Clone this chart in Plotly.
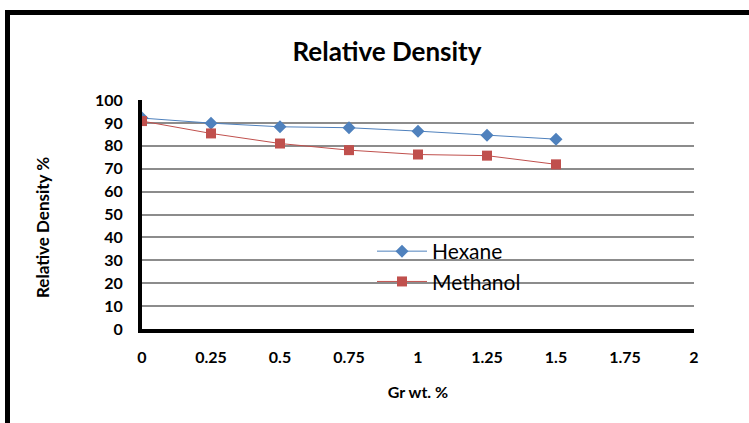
import plotly.graph_objects as go

gr_wt = [0, 0.25, 0.5, 0.75, 1, 1.25, 1.5]
hexane = [92.1, 89.9, 88.3, 87.9, 86.4, 84.6, 82.9]
methanol = [90.8, 85.4, 81.0, 78.1, 76.2, 75.7, 71.9]
x_ticks = [0, 0.25, 0.5, 0.75, 1, 1.25, 1.5, 1.75, 2]
x_tick_labels = ["0", "0.25", "0.5", "0.75", "1", "1.25", "1.5", "1.75", "2"]
y_ticks = list(range(0, 101, 10))

W, H = 749, 423
L, R, T, B = 142, 55, 100, 94
pw, ph = W - L - R, H - T - B

def px_x(p):
    return (p - L) / pw

def px_y(p):
    return (H - B - p) / ph

FONT = "Lato"

fig = go.Figure()
fig.add_trace(go.Scatter(
    x=gr_wt, y=hexane, name="Hexane", mode="lines+markers",
    line=dict(color="#4F81BD", width=1),
    marker=dict(symbol="diamond", size=10, color="#4F81BD"),
))
fig.add_trace(go.Scatter(
    x=gr_wt, y=methanol, name="Methanol", mode="lines+markers",
    line=dict(color="#C0504D", width=1),
    marker=dict(symbol="square", size=10, color="#C0504D"),
))

fig.update_layout(
    width=W, height=H,
    margin=dict(l=L, r=R, t=T, b=B),
    paper_bgcolor="white", plot_bgcolor="white",
    font=dict(family=FONT, color="black"),
    title=dict(text="Relative Density", x=(387) / W, xanchor="center",
               y=1 - 52 / H, yanchor="middle",
               font=dict(size=26, family=FONT, weight="bold")),
    showlegend=True,
    legend=dict(x=px_x(372), y=px_y(231), xanchor="left", yanchor="top",
                bgcolor="rgba(0,0,0,0)", font=dict(size=21, family=FONT),
                itemwidth=50, tracegroupgap=0),
    xaxis=dict(range=[0, 2], tickvals=x_ticks, ticktext=x_tick_labels,
               showgrid=False, zeroline=False, showline=True, linecolor="black",
               linewidth=4, ticks="", ticklabelstandoff=11,
               tickfont=dict(size=16, family=FONT, weight="bold"),
               title=dict(text="Gr wt. %", font=dict(size=16, family=FONT, weight="bold"),
                          standoff=23)),
    yaxis=dict(range=[0, 100], tickvals=y_ticks, showgrid=True, gridcolor="#8c8c8c",
               gridwidth=2, zeroline=False, showline=True, linecolor="black",
               linewidth=4, ticks="", ticklabelstandoff=12,
               tickfont=dict(size=16, family=FONT, weight="bold")),
    annotations=[dict(text="Relative Density %", textangle=-90, xref="paper", yref="paper",
                      x=px_x(42), y=px_y(228), xanchor="center", yanchor="middle",
                      showarrow=False, font=dict(size=17, family=FONT, weight="bold"))],
)

fig.add_shape(type="rect", xref="paper", yref="paper",
              x0=px_x(7.5), x1=px_x(790), y0=px_y(12.5), y1=px_y(470),
              line=dict(color="black", width=5), fillcolor="rgba(0,0,0,0)", layer="above")

fig.write_html("out.html")
